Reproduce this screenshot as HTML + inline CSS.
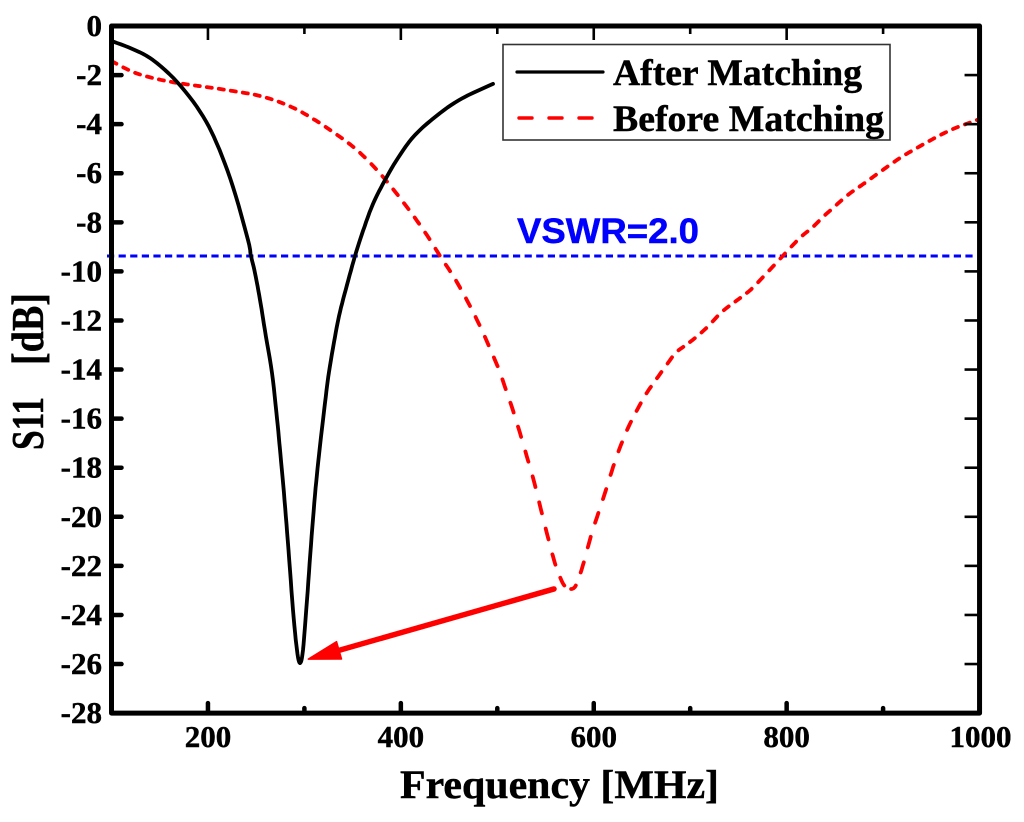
<!DOCTYPE html>
<html>
<head>
<meta charset="utf-8">
<title>S11 vs Frequency</title>
<style>
html,body{margin:0;padding:0;background:#fff;}
svg{display:block;}
text{font-family:"Liberation Serif",serif;font-weight:bold;fill:#000;stroke:#000;stroke-width:0.45;}
</style>
</head>
<body>
<svg id="chart" xmlns="http://www.w3.org/2000/svg" width="1024" height="822" viewBox="0 0 1024 822">
  <rect x="0" y="0" width="1024" height="822" fill="#ffffff"/>
  <g id="marks"></g>
  <g id="axes"></g>
  <text x="400" y="798" font-size="40" textLength="319" lengthAdjust="spacingAndGlyphs">Frequency [MHz]</text>
  <text transform="translate(43,450) rotate(-90)" font-size="45" textLength="53" lengthAdjust="spacingAndGlyphs">S11</text>
  <text transform="translate(43,365) rotate(-90)" font-size="45" textLength="72" lengthAdjust="spacingAndGlyphs">[dB]</text>
  <text x="517" y="243" font-size="35" textLength="182" lengthAdjust="spacingAndGlyphs" style="font-family:'Liberation Sans',sans-serif;fill:#0000ff;stroke:#0000ff">VSWR=2.0</text>
  <g>
    <rect x="503" y="44.5" width="387" height="95.5" fill="#ffffff" stroke="#333333" stroke-width="1.6"/>
    <line x1="517" y1="72" x2="603" y2="72" stroke="#000" stroke-width="3.2" stroke-linecap="round"/>
    <text x="613" y="85" font-size="37" textLength="249" lengthAdjust="spacingAndGlyphs">After Matching</text>
    <line x1="519" y1="118" x2="592" y2="118" stroke="#ff0000" stroke-width="3.4" stroke-linecap="round" stroke-dasharray="13 17"/>
    <text x="613" y="131" font-size="37" textLength="271" lengthAdjust="spacingAndGlyphs">Before Matching</text>
  </g>
</svg>
<script>
var afterFreq = [100,122,143,168,192,209,226,241.5,244.6,248.8,254,259,266.4,271.6,275.2,279.4,283.5,288.2,292.3,295.4,298.5,302.7,306.8,311,315.1,321.4,325.5,331.7,336.9,344.2,352.5,360.8,371.1,383.6,397,414.7,440.6,464.4,495.5];
var afterDb = [-0.61,-0.94,-1.39,-2.28,-3.5,-4.77,-6.56,-8.72,-9.37,-10.07,-11.16,-12.39,-14.14,-16,-17.48,-19.32,-21.35,-23.8,-25.43,-25.96,-25.43,-23.39,-21.15,-19.11,-17.48,-15.36,-14.1,-12.67,-11.65,-10.55,-9.37,-8.35,-7.25,-6.28,-5.38,-4.44,-3.55,-2.93,-2.36];
var beforeFreq = [100,122,143,168,199,226,254,282,306,337,358,381.5,406.4,427,440.6,458,479,499.7,509,518.4,528.7,539,548.4,558.8,565,571,580.5,588.9,598,608.6,619,625,635.5,646,655,666.6,677,686,699.8,717,734,760,775.5,796,806.6,817,827.3,837.7,848,858.4,867.7,878,896.7,917.4,935,953.8,972.4,1000];
var beforeDb = [-1.43,-1.87,-2.12,-2.32,-2.49,-2.65,-2.85,-3.22,-3.71,-4.52,-5.18,-6.15,-7.38,-8.52,-9.37,-10.43,-11.98,-13.81,-14.83,-15.93,-17.28,-18.7,-20.21,-21.76,-22.45,-22.86,-22.86,-21.96,-20.66,-19.4,-18.1,-17.4,-16.38,-15.57,-14.95,-14.3,-13.73,-13.28,-12.88,-12.3,-11.61,-10.84,-10.23,-9.37,-8.92,-8.52,-8.19,-7.78,-7.42,-7.05,-6.76,-6.48,-5.95,-5.38,-4.97,-4.56,-4.2,-3.79];
var vswrDb = [-9.37];
var xMajorTicks = [200,400,600,800,1000];
var xMinorTicks = [300,500,700,900];
var yTicks = [0,-2,-4,-6,-8,-10,-12,-14,-16,-18,-20,-22,-24,-26,-28];
var arrowFrom = [558.8,-22.94];
var arrowTo = [304,-25.8];

var NS = 'http://www.w3.org/2000/svg';
var X0 = 111.5, XS = 0.9645, Y0 = 26, YS = 24.54;
function xScale(f){ return X0 + (f - 100) * XS; }
function yScale(d){ return Y0 - d * YS; }

var marks = document.getElementById('marks');
var axes = document.getElementById('axes');

function makeLine(x1,y1,x2,y2,color,w){
  var l = document.createElementNS(NS,'line');
  l.setAttribute('x1',x1);
  l.setAttribute('y1',y1);
  l.setAttribute('x2',x2);
  l.setAttribute('y2',y2);
  l.setAttribute('stroke',color);
  l.setAttribute('stroke-width',w);
  l.setAttribute('stroke-linecap','round');
  return l;
}
function makeLabel(txt,x,y,anchor){
  var t = document.createElementNS(NS,'text');
  t.setAttribute('x',x);
  t.setAttribute('y',y);
  t.setAttribute('font-size','31');
  t.setAttribute('text-anchor',anchor);
  t.textContent = txt;
  return t;
}
/* Pixel outline of a series, drawn as a Catmull-Rom curve through its values */
function curvePixels(fs,ds){
  var raw = fs.map(function(f,i){ return [xScale(f), yScale(ds[i])]; });
  var out = [raw[0]];
  for (var i = 0; i < raw.length - 1; i++){
    var p0 = raw[Math.max(i-1,0)], p1 = raw[i], p2 = raw[i+1], p3 = raw[Math.min(i+2,raw.length-1)];
    for (var s = 1; s <= 6; s++){
      var t = s/6, t2 = t*t, t3 = t2*t;
      out.push([0,1].map(function(c){
        return 0.5*(2*p1[c] + (p2[c]-p0[c])*t + (2*p0[c]-5*p1[c]+4*p2[c]-p3[c])*t2 + (3*p1[c]-p0[c]-3*p2[c]+p3[c])*t3);
      }));
    }
  }
  return out;
}

/* VSWR line */
var vswr = makeLine(107, yScale(vswrDb[0]), 977, yScale(vswrDb[0]), '#0000ff', 3);
vswr.setAttribute('stroke-linecap','butt');
vswr.setAttribute('stroke-dasharray','7.2 4.4');


marks.appendChild(vswr);

/* Before matching: dash length measured with vertical distance compressed */
function dashedPath(pts,on,off,k){
  var drawing = true, rem = on;
  var px = pts[0][0], py = pts[0][1];
  var out = 'M' + px.toFixed(1) + ' ' + py.toFixed(1);
  for (var i = 1; i < pts.length; i++){
    var qx = pts[i][0], qy = pts[i][1];
    var dx = qx - px, dy = qy - py;
    var m = Math.sqrt(dx*dx + (dy/k)*(dy/k));
    var t = 0;
    while (m > 0 && (1 - t) * m > rem){
      t += rem / m;
      var ax = px + dx*t, ay = py + dy*t;
      out += (drawing ? 'L' : 'M') + ax.toFixed(1) + ' ' + ay.toFixed(1);
      drawing = !drawing;
      rem = drawing ? on : off;
    }
    rem -= (1 - t) * m;
    if (drawing) out += 'L' + qx.toFixed(1) + ' ' + qy.toFixed(1);
    px = qx; py = qy;
  }
  return out;
}
var before = document.createElementNS(NS,'path');
before.setAttribute('d',dashedPath(curvePixels(beforeFreq,beforeDb),5,7,2.6));
before.setAttribute('fill','none');
before.setAttribute('stroke','#ff0000');
before.setAttribute('stroke-width','3.8');
before.setAttribute('stroke-linecap','round');
before.setAttribute('stroke-linejoin','round');


marks.appendChild(before);

/* After matching */
var afterD = curvePixels(afterFreq,afterDb).map(function(p,i){
  return (i ? 'L' : 'M') + p[0].toFixed(1) + ' ' + p[1].toFixed(1);
}).join('');
var after = document.createElementNS(NS,'path');
after.setAttribute('d',afterD);
after.setAttribute('fill','none');
after.setAttribute('stroke','#000000');
after.setAttribute('stroke-width','3.8');
after.setAttribute('stroke-linecap','round');
after.setAttribute('stroke-linejoin','round');


marks.appendChild(after);

/* Annotation arrow */
var ax1 = xScale(arrowFrom[0]), ay1 = yScale(arrowFrom[1]);
var ax2 = xScale(arrowTo[0]), ay2 = yScale(arrowTo[1]);
var len = Math.sqrt((ax2-ax1)*(ax2-ax1)+(ay2-ay1)*(ay2-ay1));
var ux = (ax2-ax1)/len, uy = (ay2-ay1)/len;
var shaft = makeLine(ax1, ay1, ax2 - ux*26, ay2 - uy*26, '#ff0000', 5.5);


marks.appendChild(shaft);
var head = document.createElementNS(NS,'polygon');
var bx = ax2 - ux*32, by = ay2 - uy*32;
head.setAttribute('points', ax2+','+ay2+' '+(bx - uy*9)+','+(by + ux*9)+' '+(bx + uy*9)+','+(by - ux*9));
head.setAttribute('fill','#ff0000');
head.setAttribute('stroke','#ff0000');
head.setAttribute('stroke-width','1.5');
head.setAttribute('stroke-linejoin','round');


marks.appendChild(head);

/* Frame */
var frame = document.createElementNS(NS,'rect');
frame.setAttribute('x',xScale(100));
frame.setAttribute('y',yScale(0));
frame.setAttribute('width',xScale(1000)-xScale(100));
frame.setAttribute('height',yScale(-28)-yScale(0));
frame.setAttribute('fill','none');
frame.setAttribute('stroke','#000');
frame.setAttribute('stroke-width','5');
frame.setAttribute('stroke-linejoin','round');


axes.appendChild(frame);

/* X ticks */
xMajorTicks.forEach(function(v){
  var x = xScale(v);
  if (v < 1000){
    var b = makeLine(x, yScale(-28), x, yScale(-28)-10, '#000', 4.5);
    
    
    axes.appendChild(b);
    var t = makeLine(x, yScale(0), x, yScale(0)+14, '#000', 2.6);
    t.setAttribute('stroke-linecap','butt');
    
    
    axes.appendChild(t);
  }
  var lab = makeLabel(String(v), x + (v === 1000 ? 1 : 0), 747, 'middle');
  
  
  axes.appendChild(lab);
});
xMinorTicks.forEach(function(v){
  var x = xScale(v);
  var b = makeLine(x, yScale(-28), x, yScale(-28)-5, '#000', 4.5);
  
  
  axes.appendChild(b);
  var t = makeLine(x, yScale(0), x, yScale(0)+8, '#000', 2.6);
  t.setAttribute('stroke-linecap','butt');
  
  
  axes.appendChild(t);
});

/* Y ticks */
yTicks.forEach(function(v){
  var y = yScale(v);
  if (v !== 0 && v !== -28){
    var l = makeLine(xScale(100), y, xScale(100)+10, y, '#000', 4.5);
    
    
    axes.appendChild(l);
    var r = makeLine(xScale(1000), y, xScale(1000)-15, y, '#000', 2.6);
    r.setAttribute('stroke-linecap','butt');
    
    
    axes.appendChild(r);
  }
  var lab = makeLabel(String(v), 102, y + 10, 'end');
  
  
  axes.appendChild(lab);
});
</script>
</body>
</html>
